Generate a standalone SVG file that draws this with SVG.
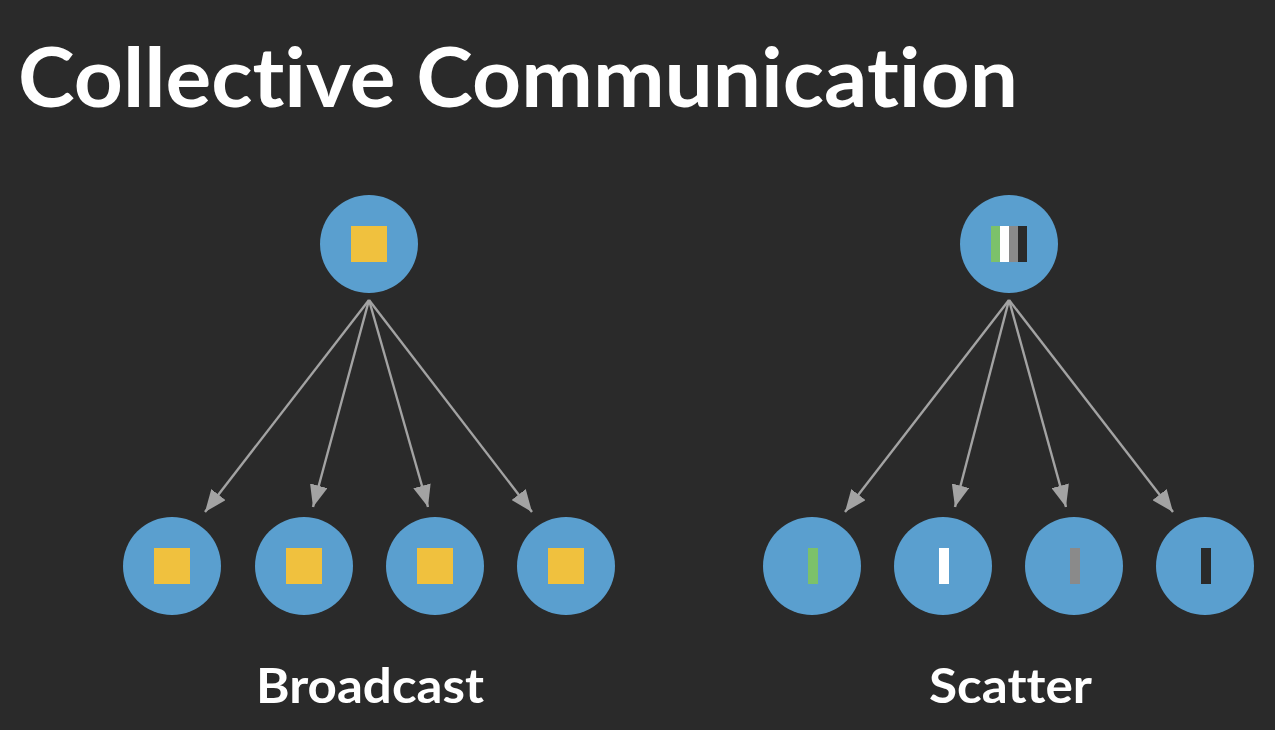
<svg xmlns="http://www.w3.org/2000/svg" width="1275" height="730" viewBox="0 0 1275 730">
<defs>
<style>
.node{fill:#5a9fcf}
.edge{stroke:#a3a3a3;stroke-width:2.4;fill:none}
.t{font-family:Lato,"Open Sans",sans-serif;font-weight:bold;fill:#ffffff;font-variant-ligatures:none}
.y{fill:#f0c13e}
</style>
<marker id="a" viewBox="0 0 22 18" refX="22" refY="9" markerWidth="22" markerHeight="18" markerUnits="userSpaceOnUse" orient="auto">
<path d="M0,0 L22,9 L0,18 z" fill="#a3a3a3"/>
</marker>
</defs>
<rect width="1275" height="730" fill="#2a2a2a"/>
<text class="t" x="18" y="107" font-size="82" textLength="1000" lengthAdjust="spacingAndGlyphs">Collective Communication</text>
<g id="connectors">
<line class="edge" x1="369" y1="300" x2="205" y2="512" marker-end="url(#a)"/>
<line class="edge" x1="369" y1="300" x2="313" y2="507" marker-end="url(#a)"/>
<line class="edge" x1="369" y1="300" x2="428" y2="507" marker-end="url(#a)"/>
<line class="edge" x1="369" y1="300" x2="532" y2="512" marker-end="url(#a)"/>
<line class="edge" x1="1009" y1="300" x2="845" y2="512" marker-end="url(#a)"/>
<line class="edge" x1="1009" y1="300" x2="955" y2="507" marker-end="url(#a)"/>
<line class="edge" x1="1009" y1="300" x2="1066" y2="507" marker-end="url(#a)"/>
<line class="edge" x1="1009" y1="300" x2="1173" y2="512" marker-end="url(#a)"/>
</g>
<g id="b-root"><circle class="node" cx="369" cy="244" r="49"/><rect class="y" x="351" y="226" width="36" height="36"/></g>
<g id="b1"><circle class="node" cx="172" cy="566" r="49"/><rect class="y" x="154" y="548" width="36" height="36"/></g>
<g id="b2"><circle class="node" cx="304" cy="566" r="49"/><rect class="y" x="286" y="548" width="36" height="36"/></g>
<g id="b3"><circle class="node" cx="435" cy="566" r="49"/><rect class="y" x="417" y="548" width="36" height="36"/></g>
<g id="b4"><circle class="node" cx="566" cy="566" r="49"/><rect class="y" x="548" y="548" width="36" height="36"/></g>
<g id="s-root"><circle class="node" cx="1009" cy="244" r="49"/>
<rect x="991" y="226" width="9" height="36" fill="#7cc16a"/>
<rect x="1000" y="226" width="9" height="36" fill="#ffffff"/>
<rect x="1009" y="226" width="9" height="36" fill="#8a8a8a"/>
<rect x="1018" y="226" width="9" height="36" fill="#2a2a2a"/>
</g>
<g id="s1"><circle class="node" cx="812" cy="566" r="49"/><rect x="808" y="548" width="10" height="36" fill="#7cc16a"/></g>
<g id="s2"><circle class="node" cx="943" cy="566" r="49"/><rect x="939" y="548" width="10" height="36" fill="#ffffff"/></g>
<g id="s3"><circle class="node" cx="1074" cy="566" r="49"/><rect x="1070" y="548" width="10" height="36" fill="#8a8a8a"/></g>
<g id="s4"><circle class="node" cx="1205" cy="566" r="49"/><rect x="1201" y="548" width="10" height="36" fill="#2a2a2a"/></g>
<text class="t" x="256" y="703" font-size="48" textLength="228" lengthAdjust="spacingAndGlyphs">Broadcast</text>
<text class="t" x="929" y="703" font-size="48" textLength="163" lengthAdjust="spacingAndGlyphs">Scatter</text>
</svg>
